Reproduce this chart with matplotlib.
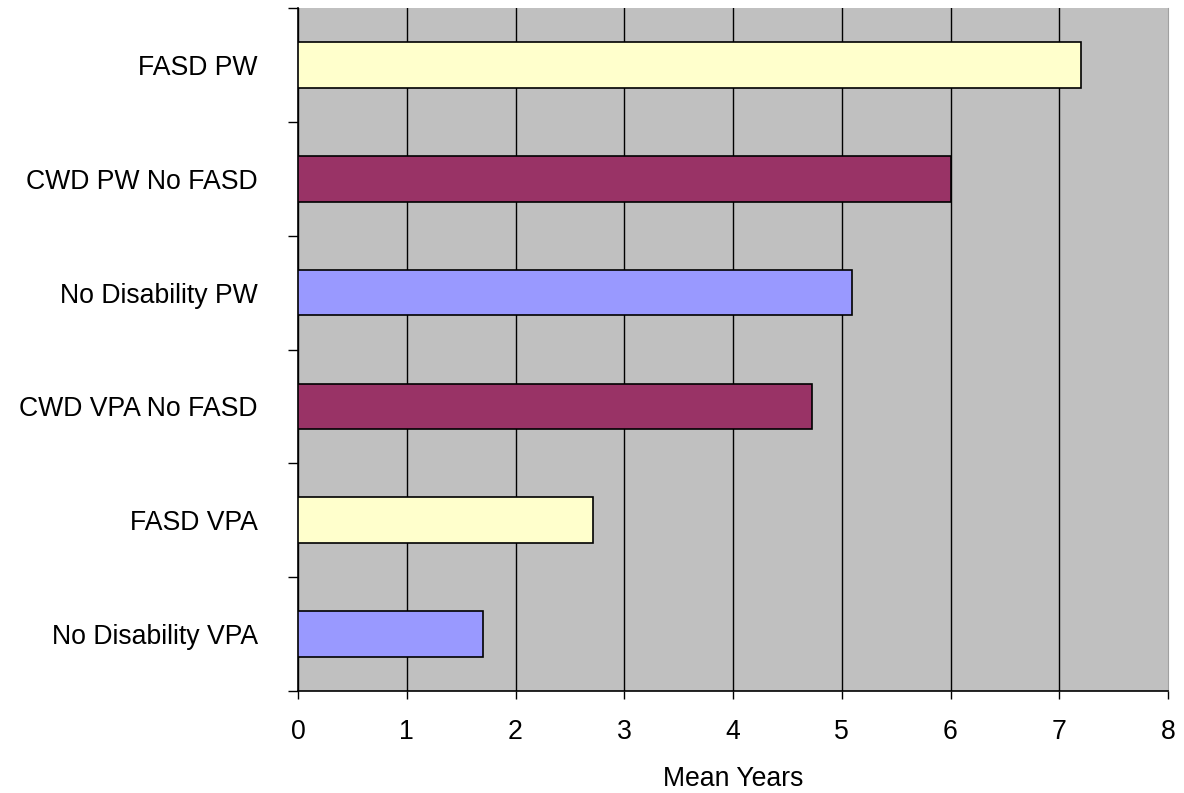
import numpy as np
import matplotlib.pyplot as plt

plt.rcParams['font.family'] = ['Liberation Sans', 'DejaVu Sans']

# data (top to bottom as in the chart)
categories = ["FASD PW", "CWD PW No FASD", "No Disability PW",
              "CWD VPA No FASD", "FASD VPA", "No Disability VPA"]
mean_years = [7.20, 6.00, 5.09, 4.73, 2.71, 1.70]
bar_colors = ["#FFFFCC", "#993366", "#9999FF", "#993366", "#FFFFCC", "#9999FF"]

fig = plt.figure(figsize=(11.84, 7.93), dpi=100)
ax = fig.add_axes([298 / 1184, 1 - 691 / 793, (1168 - 298) / 1184, (691 - 8) / 793])
ax.set_facecolor("#C0C0C0")

y = np.arange(len(categories))[::-1]
ax.barh(y, mean_years, height=0.4, color=bar_colors, edgecolor="black",
        linewidth=1.2, zorder=3)

ax.set_xlim(0, 8)
ax.set_ylim(-0.5, len(categories) - 0.5)
ax.set_xticks(range(0, 9))
ax.grid(axis="x", color="black", linewidth=1.0, zorder=1)
ax.xaxis.get_gridlines()[-1].set_visible(False)
ax.set_axisbelow(True)

# category boundaries as major ticks, labels on minor ticks
ax.set_yticks(np.arange(-0.5, len(categories), 1.0))
ax.set_yticklabels([])
ax.set_yticks(y, minor=True)
ax.set_yticklabels(categories, minor=True)
ax.tick_params(axis="y", which="major", direction="out", length=7, width=1)
ax.tick_params(axis="y", which="minor", length=0, pad=29, labelsize=19.2)
ax.tick_params(axis="x", direction="out", length=6, width=1, pad=14, labelsize=19.2)

ax.spines["top"].set_visible(False)
ax.spines["right"].set_color("#A0A0A0")
ax.spines["left"].set_linewidth(1.2)
ax.spines["bottom"].set_linewidth(1.2)

fig.text((298 + 1168) / 2 / 1184, 1 - 779 / 793, "Mean Years",
         ha="center", va="center", fontsize=19.2)

fig.savefig("out.png", dpi=100)
